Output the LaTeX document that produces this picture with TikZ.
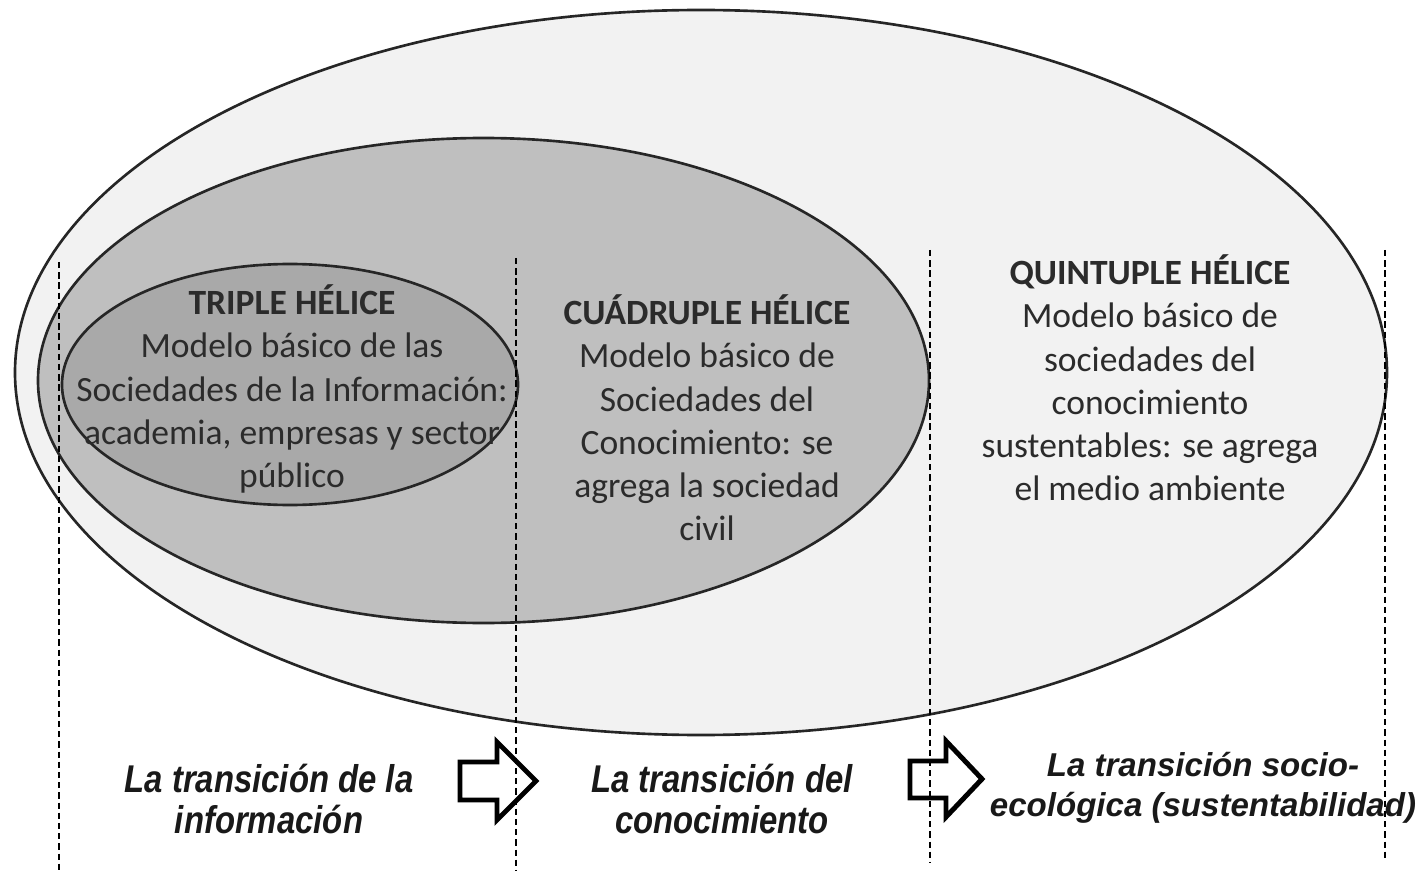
\documentclass[tikz,border=0pt]{standalone}
\usepackage{fontspec}
\setmainfont{Carlito}
\newfontfamily\narrowsans[FakeStretch=0.85]{Liberation Sans}
\newfontfamily\widesans{Liberation Sans}
\usepackage{tikz}
\usetikzlibrary{positioning}
\definecolor{quintfill}{HTML}{F2F2F2}
\definecolor{cuadfill}{HTML}{BFBFBF}
\definecolor{triplefill}{HTML}{A9A9A9}
\definecolor{modeltext}{HTML}{2B2B2B}
\tikzset{
    helix/.style={draw=black!85, line width=0.75pt},
    divider/.style={black, line width=0.8pt, dash pattern=on 1.8pt off 1.1pt},
    model/.style={align=center, inner sep=0pt, text=modeltext,
        font=\fontsize{10.1}{12.3}\selectfont},
    transition/.style={align=center, inner sep=0pt, text=black!90},
    blockarrow/.style={draw=black, line width=1.4pt, line join=miter}
}

\begin{document}
\begin{tikzpicture}[x=0.01cm, y=-0.01cm]
    \useasboundingbox (0,0) rectangle (1427,873);
    % Nested helix ellipses
    \draw[helix, fill=quintfill] (701,372.5) ellipse [x radius=686, y radius=362.5];
    \draw[helix, fill=cuadfill] (483.5,380.5) ellipse [x radius=445.5, y radius=242.5];
    \draw[helix, fill=triplefill] (290,384.5) ellipse [x radius=228, y radius=120.5];
    % Model descriptions
    \node[model] (triple) at (292,389) {\textbf{TRIPLE HÉLICE}\\Modelo básico de las\\Sociedades de la Información:\\academia, empresas y sector\\público};
    \node[model] (cuadruple) at (707,418) {\textbf{CUÁDRUPLE HÉLICE}\\Modelo básico de\\Sociedades del\\Conocimiento: se\\agrega la sociedad\\civil};
    \node[model] (quintuple) at (1150,378) {\textbf{QUINTUPLE HÉLICE}\\Modelo básico de\\sociedades del\\conocimiento\\sustentables: se agrega\\el medio ambiente};
    % Dashed dividers
    \foreach \x/\ya/\yb in {59/262/873, 516/258/870, 930/250/862, 1385/250/860}
        \draw[divider] (\x,\ya) -- (\x,\yb);
    % Transitions
    \node[transition, font=\narrowsans\fontsize{11}{11.9}\selectfont\bfseries\itshape] (info) at (269,799) {La transición de la\\información};
    \node[transition, font=\narrowsans\fontsize{11}{11.9}\selectfont\bfseries\itshape] (know) at (722,799) {La transición del\\conocimiento};
    \node[transition, font=\widesans\fontsize{9.4}{11.3}\selectfont\bfseries\itshape] (eco) at (1203,788) {La transición socio-\\ecológica (sustentabilidad)};
    % Block arrows
    \draw[blockarrow] (460,762) -- (497,762) -- (497,742) -- (536,781) -- (497,820) -- (497,800) -- (460,800) -- cycle;
    \draw[blockarrow] (910,761) -- (946,761) -- (946,741) -- (982,779) -- (946,817) -- (946,798) -- (910,798) -- cycle;
\end{tikzpicture}
\end{document}
